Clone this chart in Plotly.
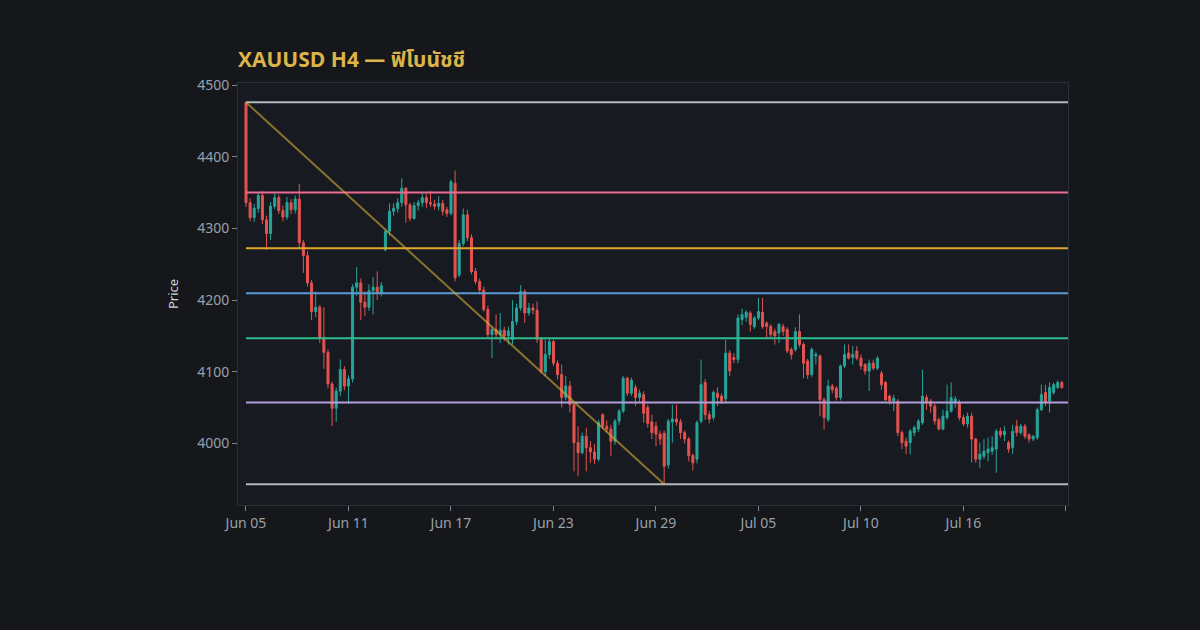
import plotly.graph_objects as go

# XAUUSD H4 candles (bar index 0..199)
opens = [
    4476, 4336, 4315, 4328, 4346, 4312, 4293, 4331, 4343, 4325,
    4316, 4336, 4326, 4341, 4280, 4262, 4224, 4184, 4190, 4148,
    4127, 4083, 4049, 4073, 4103, 4080, 4090, 4218, 4224, 4197,
    4190, 4213, 4218, 4210, 4270, 4296, 4324, 4328, 4336, 4356,
    4333, 4314, 4332, 4336, 4343, 4336, 4334, 4331, 4335, 4326,
    4321, 4363, 4235, 4279, 4319, 4287, 4240, 4226, 4214, 4187,
    4152, 4159, 4152, 4158, 4150, 4145, 4170, 4189, 4212, 4182,
    4189, 4186, 4145, 4100, 4124, 4142, 4112, 4096, 4064, 4080,
    4054, 4001, 3987, 4010, 3994, 3988, 3978, 4040, 4024, 4020,
    4003, 4031, 4045, 4091, 4070, 4078, 4064, 4068, 4050, 4030,
    4024, 4013, 4014, 3970, 4030, 4034, 4030, 4015, 4006, 3983,
    3978, 4031, 4085, 4040, 4036, 4070, 4066, 4062, 4126, 4120,
    4117, 4173, 4176, 4182, 4163, 4175, 4183, 4168, 4163, 4156,
    4154, 4163, 4159, 4131, 4131, 4156, 4138, 4115, 4096, 4122,
    4122, 4061, 4033, 4080, 4077, 4064, 4108, 4126, 4120, 4129,
    4119, 4110, 4101, 4112, 4105, 4098, 4085, 4066, 4059, 4059,
    4015, 4003, 4001, 4015, 4020, 4029, 4064, 4059, 4052, 4033,
    4020, 4036, 4045, 4058, 4057, 4036, 4027, 4038, 4006, 3978,
    3982, 3987, 3989, 3992, 4017, 4012, 4001, 3994, 4024, 4015,
    4024, 4012, 4006, 4008, 4047, 4071, 4059, 4071, 4078, 4085,
]
highs = [
    4476, 4342, 4334, 4350, 4352, 4318, 4337, 4349, 4347, 4332,
    4344, 4341, 4346, 4362, 4284, 4268, 4228, 4212, 4193, 4190,
    4131, 4086, 4078, 4117, 4108, 4095, 4222, 4246, 4230, 4212,
    4222, 4232, 4240, 4225, 4298, 4335, 4335, 4342, 4370, 4358,
    4336, 4337, 4340, 4350, 4348, 4352, 4340, 4345, 4340, 4330,
    4368, 4381, 4284, 4328, 4326, 4292, 4245, 4230, 4219, 4192,
    4163, 4180, 4182, 4163, 4163, 4200, 4195, 4221, 4215, 4196,
    4195, 4198, 4148, 4145, 4147, 4145, 4116, 4110, 4094, 4087,
    4056, 4024, 4015, 4022, 4003, 3999, 4033, 4042, 4032, 4026,
    4034, 4048, 4094, 4093, 4092, 4082, 4075, 4073, 4054, 4040,
    4030, 4018, 4018, 4034, 4054, 4054, 4034, 4018, 4009, 3986,
    4032, 4117, 4090, 4045, 4074, 4078, 4070, 4145, 4130, 4126,
    4180, 4188, 4186, 4185, 4178, 4203, 4203, 4170, 4166, 4160,
    4168, 4167, 4162, 4134, 4162, 4180, 4141, 4118, 4134, 4128,
    4124, 4064, 4089, 4083, 4080, 4110, 4138, 4138, 4136, 4136,
    4124, 4112, 4117, 4117, 4122, 4101, 4087, 4068, 4068, 4062,
    4018, 4008, 4020, 4025, 4034, 4103, 4068, 4062, 4055, 4036,
    4047, 4082, 4085, 4066, 4061, 4040, 4043, 4043, 4008, 4001,
    4006, 4008, 4010, 4020, 4022, 4024, 4004, 4026, 4033, 4027,
    4027, 4014, 4012, 4050, 4082, 4082, 4085, 4085, 4088, 4087,
]
lows = [
    4330, 4310, 4309, 4322, 4306, 4270, 4284, 4327, 4320, 4310,
    4312, 4320, 4321, 4272, 4238, 4219, 4172, 4176, 4140, 4104,
    4077, 4024, 4030, 4066, 4074, 4055, 4085, 4206, 4172, 4178,
    4185, 4180, 4200, 4205, 4268, 4290, 4318, 4322, 4330, 4308,
    4310, 4312, 4325, 4330, 4328, 4330, 4326, 4325, 4318, 4316,
    4318, 4226, 4232, 4275, 4282, 4236, 4222, 4208, 4184, 4148,
    4119, 4145, 4140, 4143, 4138, 4138, 4165, 4185, 4168, 4178,
    4180, 4140, 4098, 4094, 4118, 4108, 4089, 4050, 4060, 4043,
    3961, 3954, 3985, 3961, 3973, 3971, 3975, 4020, 4016, 3982,
    3998, 4026, 4042, 4066, 4066, 4052, 4058, 4029, 4022, 4006,
    3996, 3998, 3943, 3965, 4001, 4025, 4006, 4000, 3975, 3962,
    3972, 4028, 4033, 4028, 4032, 4052, 4055, 4058, 4094, 4112,
    4112, 4165, 4170, 4156, 4160, 4172, 4160, 4147, 4148, 4138,
    4140, 4150, 4126, 4117, 4128, 4134, 4091, 4090, 4093, 4110,
    4038, 4019, 4030, 4070, 4060, 4060, 4105, 4117, 4110, 4116,
    4103, 4096, 4073, 4102, 4102, 4075, 4059, 4054, 4045, 4010,
    3992, 3985, 3985, 4010, 4016, 4026, 4047, 4043, 4026, 4018,
    4018, 4033, 4043, 4050, 4032, 4024, 4022, 3973, 3973, 3966,
    3978, 3975, 3984, 3959, 4008, 4003, 3987, 3985, 4010, 4012,
    4006, 4001, 4003, 4005, 4045, 4052, 4043, 4068, 4076, 4076,
]
closes = [
    4336, 4315, 4328, 4346, 4312, 4293, 4331, 4343, 4325, 4316,
    4336, 4326, 4341, 4280, 4262, 4224, 4184, 4190, 4148, 4127,
    4083, 4049, 4073, 4103, 4080, 4090, 4218, 4224, 4197, 4190,
    4213, 4218, 4210, 4220, 4296, 4324, 4328, 4336, 4356, 4333,
    4314, 4332, 4336, 4343, 4336, 4334, 4331, 4335, 4324, 4321,
    4365, 4231, 4279, 4319, 4287, 4240, 4226, 4214, 4187, 4152,
    4159, 4152, 4158, 4150, 4157, 4170, 4189, 4212, 4182, 4189,
    4186, 4145, 4100, 4124, 4142, 4112, 4096, 4064, 4080, 4054,
    4001, 3987, 4010, 3994, 3988, 3978, 4029, 4024, 4020, 4003,
    4031, 4045, 4091, 4070, 4088, 4064, 4070, 4042, 4028, 4015,
    4013, 4006, 3968, 4031, 4034, 4030, 4015, 4006, 3983, 3973,
    4029, 4082, 4040, 4034, 4071, 4064, 4059, 4126, 4101, 4117,
    4175, 4180, 4183, 4166, 4175, 4184, 4163, 4163, 4152, 4150,
    4166, 4156, 4129, 4124, 4156, 4138, 4112, 4096, 4131, 4124,
    4061, 4036, 4080, 4075, 4064, 4108, 4124, 4119, 4124, 4119,
    4108, 4101, 4112, 4105, 4119, 4082, 4061, 4059, 4063, 4015,
    4001, 3996, 4017, 4022, 4031, 4066, 4057, 4052, 4031, 4020,
    4038, 4045, 4064, 4062, 4036, 4027, 4038, 4006, 3978, 3985,
    3989, 3992, 3994, 4017, 4012, 4017, 3992, 4017, 4015, 4024,
    4010, 4006, 4010, 4047, 4068, 4057, 4078, 4082, 4085, 4078,
]

# date labels shown every 25 bars (last tick has no label)
tick_labels = ["Jun 05", "Jun 11", "Jun 17", "Jun 23", "Jun 29",
               "Jul 05", "Jul 10", "Jul 16", ""]

fib_ratios = [0, 0.236, 0.382, 0.5, 0.618, 0.786, 1]
fib_colors = ["#b4b7bd", "#ec6b93", "#e0a82e", "#5b9bd5",
              "#2ebd8c", "#b39ddb", "#b4b7bd"]

n = len(closes)
bars = list(range(n))

# swing high / low for the retracement
hi = max(highs)
lo = min(lows)
i_hi = highs.index(hi)
i_lo = lows.index(lo)
span = hi - lo

fig = go.Figure()

fig.add_trace(go.Candlestick(
    x=bars, open=opens, high=highs, low=lows, close=closes,
    increasing=dict(line=dict(color="#26a69a", width=1), fillcolor="#26a69a"),
    decreasing=dict(line=dict(color="#e5534f", width=1), fillcolor="#e5534f"),
    showlegend=False,
))

x_end = n + 0.5
for r, c in zip(fib_ratios, fib_colors):
    level = hi - r * span
    fig.add_shape(type="line", xref="x", yref="y",
                  x0=i_hi, x1=x_end, y0=level, y1=level,
                  line=dict(color=c, width=2))

# diagonal from swing high to swing low
fig.add_shape(type="line", xref="x", yref="y",
              x0=i_hi, y0=hi, x1=i_lo, y1=lo,
              line=dict(color="rgba(212,175,55,0.6)", width=2))

axis_style = dict(
    showgrid=False, zeroline=False,
    showline=True, mirror=True, linecolor="#2b2f3a", linewidth=1,
    ticks="outside", ticklen=5, tickcolor="#7d828c",
    tickfont=dict(color="#9aa0a8", size=14),
)

fig.update_layout(
    width=1200, height=630,
    paper_bgcolor="#15171b",
    plot_bgcolor="#171a21",
    font=dict(family="Noto Sans Thai, Noto Sans, sans-serif", color="#c8ccd2"),
    margin=dict(l=238, r=132, t=83, b=125),
    title=dict(
        text="XAUUSD H4 — ฟิโบนัชชี",
        font=dict(size=21, color="#dcb44a", weight="bold"),
        x=0, xref="paper", xanchor="left",
        y=1 - 60 / 630, yref="container", yanchor="middle",
    ),
    xaxis=dict(
        axis_style,
        range=[-1.95, x_end],
        tickmode="array",
        tickvals=list(range(0, n + 1, 25)),
        ticktext=tick_labels,
        rangeslider=dict(visible=False),
    ),
    yaxis=dict(
        axis_style,
        range=[3914, 4503],
        dtick=100,
        title=dict(text="Price", font=dict(size=13, color="#d0d3d8")),
    ),
)

# no white page margin around the figure, no modebar
fig.write_html("out.html", config={"displayModeBar": False},
               post_script="document.body.style.margin='0';"
               "document.body.style.background='#15171b';")
